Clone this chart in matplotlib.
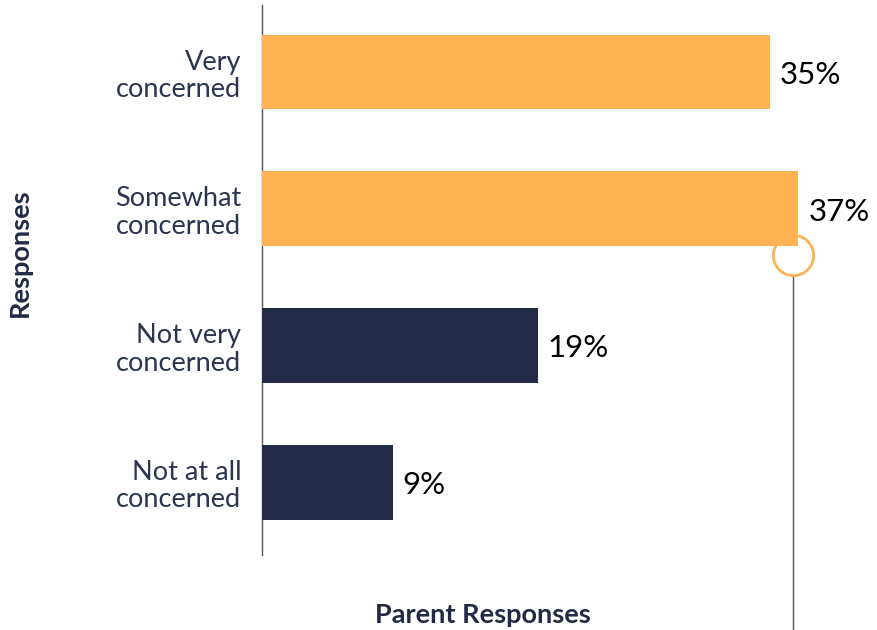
import matplotlib
matplotlib.use("Agg")
import matplotlib.pyplot as plt
from matplotlib.lines import Line2D

# ── Data ───────────────────────────────────────────────────
categories = ["Very\nconcerned", "Somewhat\nconcerned", "Not very\nconcerned", "Not at all\nconcerned"]
values = [35, 37, 19, 9]
value_labels = ["35%", "37%", "19%", "9%"]

ORANGE = "#FDB352"
NAVY = "#222B45"
TEXT = "#2B3451"
colors = [ORANGE, ORANGE, NAVY, NAVY]

plt.rcParams["font.family"] = ["Lato", "DejaVu Sans"]

fig = plt.figure(figsize=(8.77, 6.3), dpi=100)
W, H = 877, 630
ax = fig.add_axes([262 / W, 1 - 555 / H, (W - 262) / W, 550 / H])

pos = list(range(len(categories)))
ax.barh(pos, values, height=0.547, color=colors, zorder=3)
ax.set_ylim(3.53, -0.49)
ax.set_xlim(0, (W - 262) / 14.5)

for p, v, lab in zip(pos, values, value_labels):
    ax.text(v + 0.7, p + 0.02, lab, va="center", ha="left", fontsize=22.5, color="black")

ax.set_yticks(pos)
ax.set_yticklabels(categories, fontsize=19.5, color=TEXT, linespacing=1.12)
ax.tick_params(axis="y", length=0, pad=15)
ax.set_xticks([])
for s in ["top", "right", "bottom"]:
    ax.spines[s].set_visible(False)
ax.spines["left"].set_color("#555555")
ax.spines["left"].set_linewidth(1)

# highlight marker on the 37% bar, with a leader line down to the bottom
fig.lines.append(Line2D([793 / W], [1 - 255 / H], transform=fig.transFigure,
                        marker="o", markersize=29, markerfacecolor="none",
                        markeredgecolor=ORANGE, markeredgewidth=2, zorder=1))
fig.lines.append(Line2D([793 / W, 793 / W], [1 - 277 / H, 0], transform=fig.transFigure,
                        color="#555555", linewidth=1))
ax.set_zorder(2)
ax.patch.set_alpha(0)

fig.text(483 / W, 1 - 615 / H, "Parent Responses", ha="center", va="center",
         fontsize=19.5, fontweight="bold", color=NAVY)
fig.text(20 / W, 1 - 253 / H, "Responses", ha="center", va="center", rotation=90,
         fontsize=19.5, fontweight="bold", color=NAVY)

fig.savefig("out.png", dpi=100)
